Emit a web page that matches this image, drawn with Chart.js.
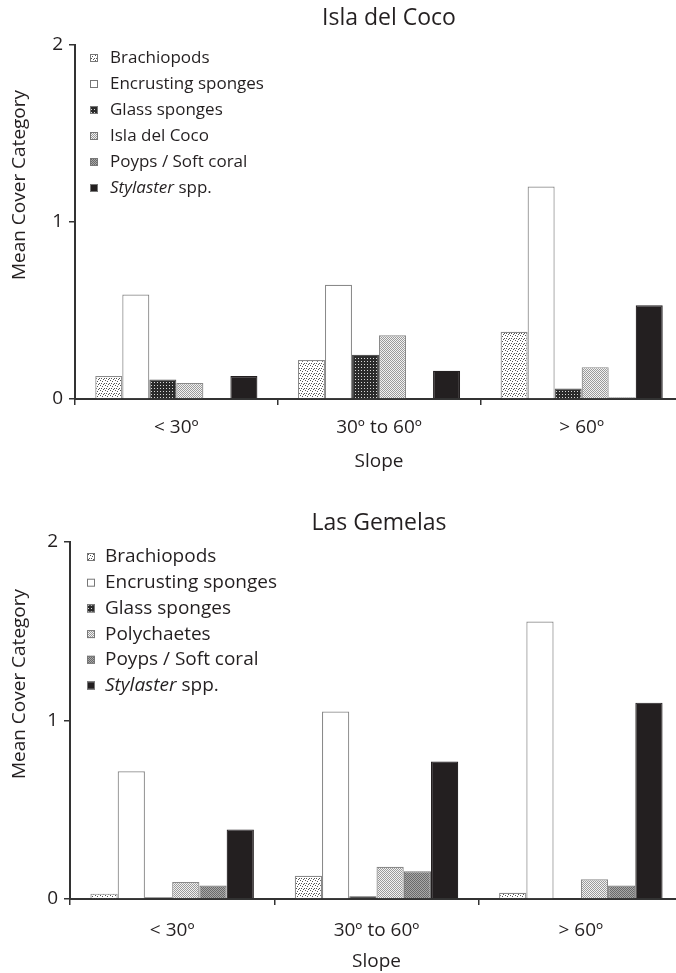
<!DOCTYPE html>
<html>
<head>
<meta charset="utf-8">
<script src="https://cdn.jsdelivr.net/npm/chart.js@4/dist/chart.umd.min.js"></script>
<style>
    html, body { margin: 0; padding: 0; overflow: hidden; background: #fff; width: 676px; height: 973px; }
    .wrap { position: absolute; left: 0; }
    #topWrap { top: 0; }
    #bottomWrap { top: 490px; }
</style>
</head>
<body>
<div class="wrap" id="topWrap"><canvas id="cocoChart" width="700" height="490"></canvas></div>
<div class="wrap" id="bottomWrap"><canvas id="gemelasChart" width="700" height="483"></canvas></div>
<script>
// Slope classes (x categories)
const slopeLabels = ['< 30º', '30º to 60º', '> 60º'];
const yTicks = [0, 1, 2];

// Isla del Coco
const cocoNames = ['Brachiopods', 'Encrusting sponges', 'Glass sponges', 'Isla del Coco', 'Poyps / Soft coral', 'Stylaster spp.'];
const cocoBrachiopods = [0.13, 0.22, 0.38];
const cocoEncrusting = [0.59, 0.645, 1.20];
const cocoGlass = [0.11, 0.25, 0.06];
const cocoIsla = [0.09, 0.36, 0.18];
const cocoPolyps = [0, 0, 0.01];
const cocoStylaster = [0.13, 0.16, 0.53];

// Las Gemelas
const gemelasNames = ['Brachiopods', 'Encrusting sponges', 'Glass sponges', 'Polychaetes', 'Poyps / Soft coral', 'Stylaster spp.'];
const gemelasBrachiopods = [0.03, 0.13, 0.035];
const gemelasEncrusting = [0.715, 1.05, 1.555];
const gemelasGlass = [0.01, 0.015, 0];
const gemelasPolychaetes = [0.095, 0.18, 0.11];
const gemelasPolyps = [0.075, 0.155, 0.075];
const gemelasStylaster = [0.39, 0.77, 1.10];

const FONT = '"Open Sans", "Noto Sans", sans-serif';
const INK = '#231f20';

// small tiled fills, like the hatch fills of the printed figure
function makePattern(size, bg, dot, dots) {
    const c = document.createElement('canvas');
    c.width = size;
    c.height = size;
    const g = c.getContext('2d');
    g.fillStyle = bg;
    g.fillRect(0, 0, size, size);
    g.fillStyle = dot;
    dots.forEach(d => g.fillRect(d[0], d[1], 1, 1));
    return g.createPattern(c, 'repeat');
}

const fills = [
    makePattern(5, '#ffffff', '#555555', [[0, 0], [2, 1], [4, 3], [1, 3], [3, 4]]),   // brachiopods
    '#ffffff',                                                                       // encrusting
    makePattern(3, '#2b2b2b', '#d8d8d8', [[1, 1]]),                                   // glass
    makePattern(2, '#f2f2f2', '#9a9a9a', [[0, 0], [1, 1]]),                           // polychaetes / isla
    makePattern(2, '#a8a8a8', '#6a6a6a', [[0, 0], [1, 1]]),                           // polyps
    INK                                                                              // stylaster
];
const borders = ['#8a8a8a', '#8a8a8a', '#555555', '#8a8a8a', '#777777', INK];

function buildDatasets(names, series) {
    return names.map((name, i) => ({
        label: name,
        data: series[i],
        backgroundColor: fills[i],
        borderColor: borders[i],
        borderWidth: 1.2,
        borderSkipped: 'start',
        categoryPercentage: 0.8,
        barPercentage: 1.0
    }));
}

// Title, rotated y title and legend (with italic genus name)
const extraText = {
    id: 'extraText',
    afterDraw(chart, args, opts) {
        const ctx = chart.ctx;
        ctx.save();
        ctx.fillStyle = INK;
        ctx.textBaseline = 'middle';
        ctx.textAlign = 'center';
        ctx.font = opts.titleSize + 'px ' + FONT;
        ctx.fillText(opts.title, opts.titleX, opts.titleY);

        ctx.save();
        ctx.translate(opts.yTitleX, opts.yTitleY);
        ctx.rotate(-Math.PI / 2);
        ctx.font = '19px ' + FONT;
        ctx.fillText('Mean Cover Category', 0, 0);
        ctx.restore();

        ctx.textAlign = 'left';
        const s = opts.boxSize;
        chart.data.datasets.forEach((ds, i) => {
            const y = opts.legendY + i * opts.legendGap;
            ctx.fillStyle = ds.backgroundColor;
            ctx.fillRect(opts.boxX, y - s / 2, s, s);
            ctx.strokeStyle = '#777';
            ctx.lineWidth = 1;
            ctx.strokeRect(opts.boxX + 0.5, y - s / 2 + 0.5, s - 1, s - 1);
            ctx.fillStyle = INK;
            let x = opts.textX;
            if (ds.label.startsWith('Stylaster')) {
                ctx.font = 'italic ' + opts.legendSize + 'px ' + FONT;
                ctx.fillText('Stylaster', x, y);
                x += ctx.measureText('Stylaster').width;
                ctx.font = opts.legendSize + 'px ' + FONT;
                ctx.fillText(ds.label.slice(9), x, y);
            } else {
                ctx.font = opts.legendSize + 'px ' + FONT;
                ctx.fillText(ds.label, x, y);
            }
        });
        ctx.restore();
    }
};

function makeChart(id, names, series, layout, text) {
    const ctx = document.getElementById(id).getContext('2d');
    return new Chart(ctx, {
        type: 'bar',
        data: {
            labels: slopeLabels,
            datasets: buildDatasets(names, series)
        },
        options: {
            responsive: false,
            animation: false,
            devicePixelRatio: 1,
            layout: { padding: layout.padding },
            plugins: {
                legend: { display: false },
                title: { display: false },
                tooltip: { enabled: false },
                extraText: text
            },
            scales: {
                x: {
                    offset: true,
                    grid: {
                        offset: true,
                        drawOnChartArea: false,
                        drawTicks: true,
                        tickLength: 6,
                        color: '#333',
                        lineWidth: 1.5
                    },
                    border: { color: '#333', width: 2 },
                    ticks: {
                        color: INK,
                        font: { family: FONT, size: 19 },
                        padding: layout.xTickPad
                    },
                    title: {
                        display: true,
                        text: 'Slope',
                        color: INK,
                        font: { family: FONT, size: 19 },
                        padding: { top: 0, bottom: layout.xTitlePad }
                    },
                    afterFit: function(scale) { scale.height = layout.xHeight; }
                },
                y: {
                    min: 0,
                    max: 2,
                    afterBuildTicks: function(scale) { scale.ticks = yTicks.map(v => ({ value: v })); },
                    grid: {
                        drawOnChartArea: false,
                        tickLength: 6,
                        color: '#333',
                        lineWidth: 1.5
                    },
                    border: { color: '#333', width: 2 },
                    ticks: {
                        color: INK,
                        font: { family: FONT, size: 19 },
                        padding: 6
                    },
                    afterFit: function(scale) { scale.width = layout.yWidth; }
                }
            }
        },
        plugins: [extraText]
    });
}

makeChart('cocoChart', cocoNames,
    [cocoBrachiopods, cocoEncrusting, cocoGlass, cocoIsla, cocoPolyps, cocoStylaster],
    { padding: { left: 30, right: 17, top: 45, bottom: 11 }, yWidth: 45, xHeight: 80, xTickPad: 11, xTitlePad: 6 },
    { title: 'Isla del Coco', titleSize: 23, titleX: 389, titleY: 18, yTitleX: 20, yTitleY: 185,
      boxX: 90, boxSize: 8, textX: 110, legendY: 58, legendGap: 26, legendSize: 17 });

makeChart('gemelasChart', gemelasNames,
    [gemelasBrachiopods, gemelasEncrusting, gemelasGlass, gemelasPolychaetes, gemelasPolyps, gemelasStylaster],
    { padding: { left: 25, right: 17, top: 52, bottom: 0 }, yWidth: 45, xHeight: 74, xTickPad: 14, xTitlePad: 0 },
    { title: 'Las Gemelas', titleSize: 23, titleX: 379, titleY: 33, yTitleX: 20, yTitleY: 194,
      boxX: 87, boxSize: 8, textX: 105, legendY: 67, legendGap: 25.7, legendSize: 19 });
</script>
</body>
</html>
